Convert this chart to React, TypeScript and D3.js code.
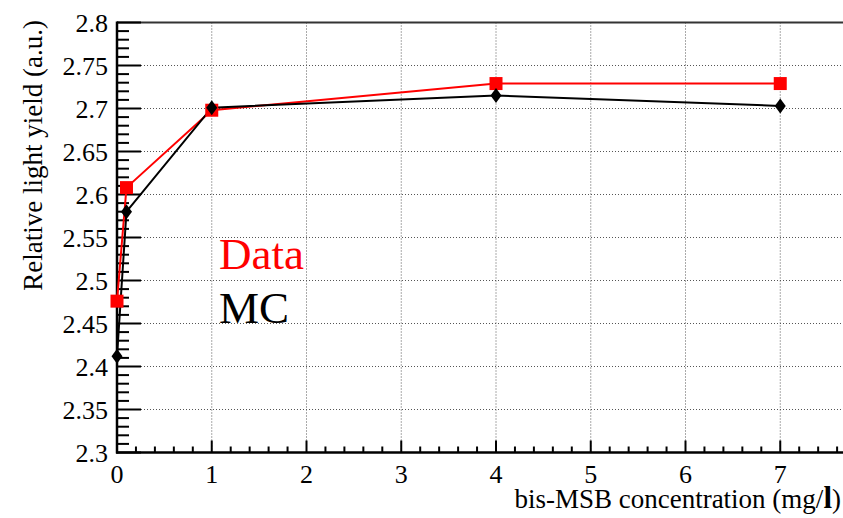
import React from "react";
import * as d3 from "d3";

const concentrations = [0, 0.1, 1, 4, 7];
const dataYield = [2.476, 2.608, 2.698, 2.729, 2.729];
const mcYield = [2.412, 2.58, 2.701, 2.715, 2.703];
const yTickLabels = ["2.3", "2.35", "2.4", "2.45", "2.5", "2.55", "2.6", "2.65", "2.7", "2.75", "2.8"];
const xTickLabels = ["0", "1", "2", "3", "4", "5", "6", "7"];

const W = 843, H = 518;
const x = d3.scaleLinear().domain([0, 8]).range([117, 875]);
const y = d3.scaleLinear().domain([2.3, 2.8]).range([452.5, 22.5]);
const font = "Liberation Serif, DejaVu Serif, Times New Roman, serif";

export default function App() {
  const dataPath = d3.line<number>().x((_, i) => x(concentrations[i])).y(d => y(d))(dataYield) || "";
  const mcPath = d3.line<number>().x((_, i) => x(concentrations[i])).y(d => y(d))(mcYield) || "";
  const yMinor = d3.range(0, 51).map(i => 2.3 + i * 0.01);
  const xMinor = d3.range(0, 41).map(i => i * 0.2);
  const [x0, x1] = x.range();
  const ts = { fontFamily: font };
  return (
    <svg width={W} height={H} style={{ position: "absolute", left: 0, top: 0, background: "#fff", fontFamily: font }}>
      {yTickLabels.slice(1, -1).map(t => (
        <line key={"gy" + t} x1={x0} x2={x1} y1={y(+t)} y2={y(+t)} stroke="#555" strokeWidth={1} strokeDasharray="1,2" />
      ))}
      {xTickLabels.slice(1).map(t => (
        <line key={"gx" + t} x1={x(+t)} x2={x(+t)} y1={y(2.3)} y2={y(2.8)} stroke="#555" strokeWidth={1} strokeDasharray="1,2" />
      ))}
      <line x1={x0} x2={x1} y1={y(2.8)} y2={y(2.8)} stroke="#333" strokeWidth={2} />
      {yMinor.map((v, i) => (
        <line key={"ym" + i} x1={x0} x2={x0 + (i % 5 === 0 ? 24 : 12)} y1={y(v)} y2={y(v)} stroke="#000" strokeWidth={2} />
      ))}
      {xMinor.map((v, i) => (
        <line key={"xm" + i} x1={x(v)} x2={x(v)} y1={y(2.3)} y2={y(2.3) - (i % 5 === 0 ? 12 : 6)} stroke="#000" strokeWidth={2} />
      ))}
      <line x1={x0} x2={x0} y1={y(2.3) + 1} y2={y(2.8) - 1} stroke="#000" strokeWidth={2.5} />
      <line x1={x0 - 1} x2={x1} y1={y(2.3)} y2={y(2.3)} stroke="#000" strokeWidth={2.5} />
      {yTickLabels.map(t => (
        <text key={"yl" + t} style={ts} x={108} y={y(+t) + 9} textAnchor="end" fontSize={26}>{t}</text>
      ))}
      {xTickLabels.map(t => (
        <text key={"xl" + t} style={ts} x={x(+t)} y={483} textAnchor="middle" fontSize={26}>{t}</text>
      ))}
      <text style={ts} transform={`translate(42,20) rotate(-90)`} textAnchor="end" fontSize={27}>Relative light yield (a.u.)</text>
      <text style={ts} x={841} y={508} textAnchor="end" fontSize={27}>bis-MSB concentration (mg/<tspan fontWeight="bold" fontSize={31}>l</tspan>)</text>
      <path d={dataPath} fill="none" stroke="#ff0000" strokeWidth={2} />
      <path d={mcPath} fill="none" stroke="#000" strokeWidth={2} />
      {dataYield.map((v, i) => (
        <rect key={"d" + i} x={x(concentrations[i]) - 6.5} y={y(v) - 6.5} width={13} height={13} fill="#ff0000" />
      ))}
      {mcYield.map((v, i) => {
        const cx = x(concentrations[i]), cy = y(v);
        return <path key={"m" + i} d={`M${cx},${cy - 7.5}L${cx + 5.5},${cy}L${cx},${cy + 7.5}L${cx - 5.5},${cy}Z`} fill="#000" />;
      })}
      <text style={ts} x={219} y={269} fontSize={45} fill="#ff0000">Data</text>
      <text style={ts} x={219} y={323} fontSize={45} fill="#000">MC</text>
    </svg>
  );
}
